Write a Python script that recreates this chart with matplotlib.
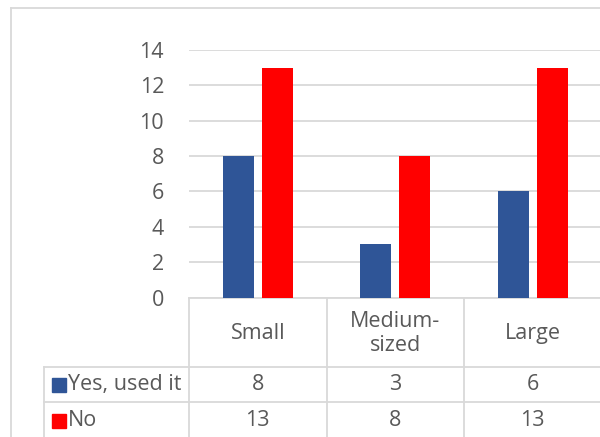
import matplotlib.pyplot as plt
import numpy as np
from matplotlib.lines import Line2D
from matplotlib.patches import Rectangle

# survey counts by company size
categories = ['Small', 'Medium-\nsized', 'Large']
series_names = ['Yes, used it', 'No']
yes_used = [8, 3, 6]
no_used = [13, 8, 13]
yticks = [0, 2, 4, 6, 8, 10, 12, 14]

colors = ['#2f5597', '#ff0000']
text_color = '#595959'
line_color = '#d9d9d9'

plt.rcParams['font.family'] = ['Open Sans', 'DejaVu Sans']
fs = 15.5

W, H = 600, 437
fig = plt.figure(figsize=(W / 100, H / 100), dpi=100)


def fx(px):
    return px / W


def fy(py):
    return 1 - py / H


def hline(y, x0, x1):
    fig.add_artist(Line2D([fx(x0), fx(x1)], [fy(y), fy(y)], color=line_color, lw=1.3))


def vline(x, y0, y1):
    fig.add_artist(Line2D([fx(x), fx(x)], [fy(y0), fy(y1)], color=line_color, lw=1.3))


# plot area
x_left, x_right = 189, 601.5
y_top, y_bot = 50, 297.5
ax = fig.add_axes([fx(x_left), fy(y_bot), fx(x_right) - fx(x_left), (y_bot - y_top) / H])

x = np.arange(len(categories))
bw = 0.225
off = 0.142
ax.bar(x - off, yes_used, bw, color=colors[0], zorder=3)
ax.bar(x + off, no_used, bw, color=colors[1], zorder=3)

ax.set_xlim(-0.5, len(categories) - 0.5)
ax.set_ylim(0, 14)
ax.set_yticks(yticks)
ax.set_yticklabels([str(t) for t in yticks], fontsize=fs, color=text_color)
ax.tick_params(axis='y', length=0, pad=18)
ax.tick_params(axis='x', length=0, labelbottom=False)
ax.grid(True, axis='y', color=line_color, lw=1.3, zorder=0)
for s in ['top', 'right', 'left']:
    ax.spines[s].set_visible(False)
ax.spines['bottom'].set_color(line_color)
ax.spines['bottom'].set_linewidth(1.3)

# chart border
hline(8, 11, W)
vline(11, 8, H)

# data table below the axis
col_edges = [189, 326.5, 464, 601.5]
row_label_left = 44
header_bot, row1_bot = 367, 402
for xe in col_edges:
    vline(xe, y_bot, H)
vline(row_label_left, header_bot, H)
hline(header_bot, row_label_left, W)
hline(row1_bot, row_label_left, W)

for i, cat in enumerate(categories):
    cx = (col_edges[i] + col_edges[i + 1]) / 2
    fig.text(fx(cx), fy((y_bot + header_bot) / 2 + 1), cat, ha='center', va='center',
             fontsize=fs, color=text_color, linespacing=1.2)

rows = [yes_used, no_used]
row_mids = [(header_bot + row1_bot) / 2, (row1_bot + H + 2) / 2]
for r, (name, vals) in enumerate(zip(series_names, rows)):
    ym = row_mids[r]
    fig.add_artist(Rectangle((fx(52), fy(ym + 7)), 14 / W, 14 / H,
                             color=colors[r], transform=fig.transFigure))
    fig.text(fx(68), fy(ym), name, ha='left', va='center', fontsize=fs, color=text_color)
    for i, v in enumerate(vals):
        cx = (col_edges[i] + col_edges[i + 1]) / 2
        fig.text(fx(cx), fy(ym), str(v), ha='center', va='center',
                 fontsize=fs, color=text_color)

fig.savefig('out.png', dpi=100)
